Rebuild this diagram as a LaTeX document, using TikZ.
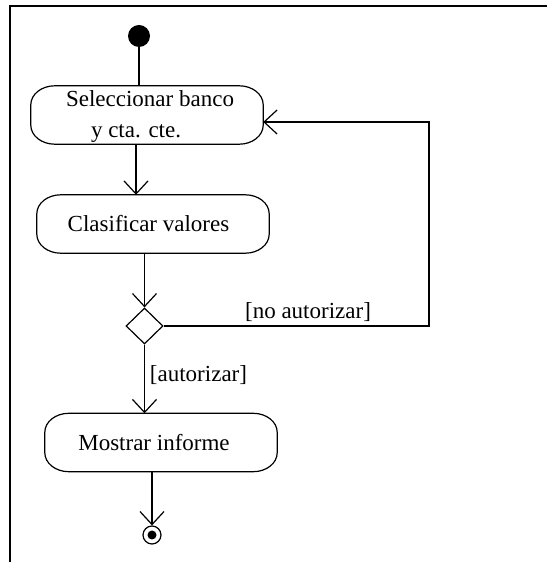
\documentclass[tikz,border=0pt]{standalone}
\usepackage{fontspec}
\setmainfont{Liberation Serif}
\usetikzlibrary{arrows.meta,shapes.geometric}
\begin{document}
\begin{tikzpicture}[x=1pt,y=1pt,
  every node/.style={font=\fontsize{23}{31}\selectfont},
  activity/.style={minimum width=232pt,minimum height=58pt,inner sep=0pt},
  plain/.style={line width=1.2pt},
  flow/.style={plain,-{Straight Barb[length=13pt,width=24pt]}},
  guard/.style={inner sep=0pt},
]
\useasboundingbox (0,0) rectangle (547,562);
% frame
\draw[line width=2pt] (9.5,0) -- (9.5,555.5) -- (547,555.5);

% initial and final states
\node[circle,fill=black,minimum size=22pt,inner sep=0pt] (ini) at (139,526) {};
\node[circle,draw,line width=1.2pt,minimum size=18pt,inner sep=0pt] (fin) at (152,27) {};
\fill (fin.center) circle (4.5pt);

% activities
\node[activity,label={[xshift=3pt,yshift=-2pt,align=left]center:{Seleccionar banco\\\hspace*{25pt}y cta. cte.}}] (sel) at (147,447) {};
\node[activity,label={[xshift=-4.5pt]center:Clasificar valores}] (cla) at (153,338) {};
\node[activity,label={[xshift=-7pt]center:Mostrar informe}] (mos) at (161,119.5) {};

% activity outlines: flat top and bottom, elliptical ends
\foreach \n in {sel,cla,mos}{
  \draw[plain] ([xshift=24pt]\n.north west) -- ([xshift=-24pt]\n.north east)
    arc[start angle=90,end angle=0,x radius=24pt,y radius=19pt]
    -- ([yshift=19pt]\n.south east)
    arc[start angle=0,end angle=-90,x radius=24pt,y radius=19pt]
    -- ([xshift=24pt]\n.south west)
    arc[start angle=270,end angle=180,x radius=24pt,y radius=19pt]
    -- ([yshift=-19pt]\n.north west)
    arc[start angle=180,end angle=90,x radius=24pt,y radius=19pt] -- cycle;
}

% decision
\node[draw,diamond,minimum width=37pt,minimum height=36pt,inner sep=0pt,line width=1.2pt] (dec) at (144.5,236) {};

% guards
\node[guard] (no) at (308,250) {[no autorizar]};
\node[guard] (yes) at (198.5,187) {[autorizar]};

% transitions
\draw[plain] (ini) -- (ini |- sel.north);
\draw[flow] ([xshift=-11pt]sel.south) -- ([xshift=-11pt]sel.south |- cla.north);
\draw[flow] (cla.south -| dec.north) -- (dec.north);
\coordinate (turn) at (429,440);
\draw[flow] (dec.east) -| (turn) -- ([yshift=-7pt]sel.east);
\draw[flow] (dec.south) -- (dec.south |- mos.north);
\draw[flow] (mos.south -| fin.north) -- (fin.north);
\end{tikzpicture}
\end{document}
